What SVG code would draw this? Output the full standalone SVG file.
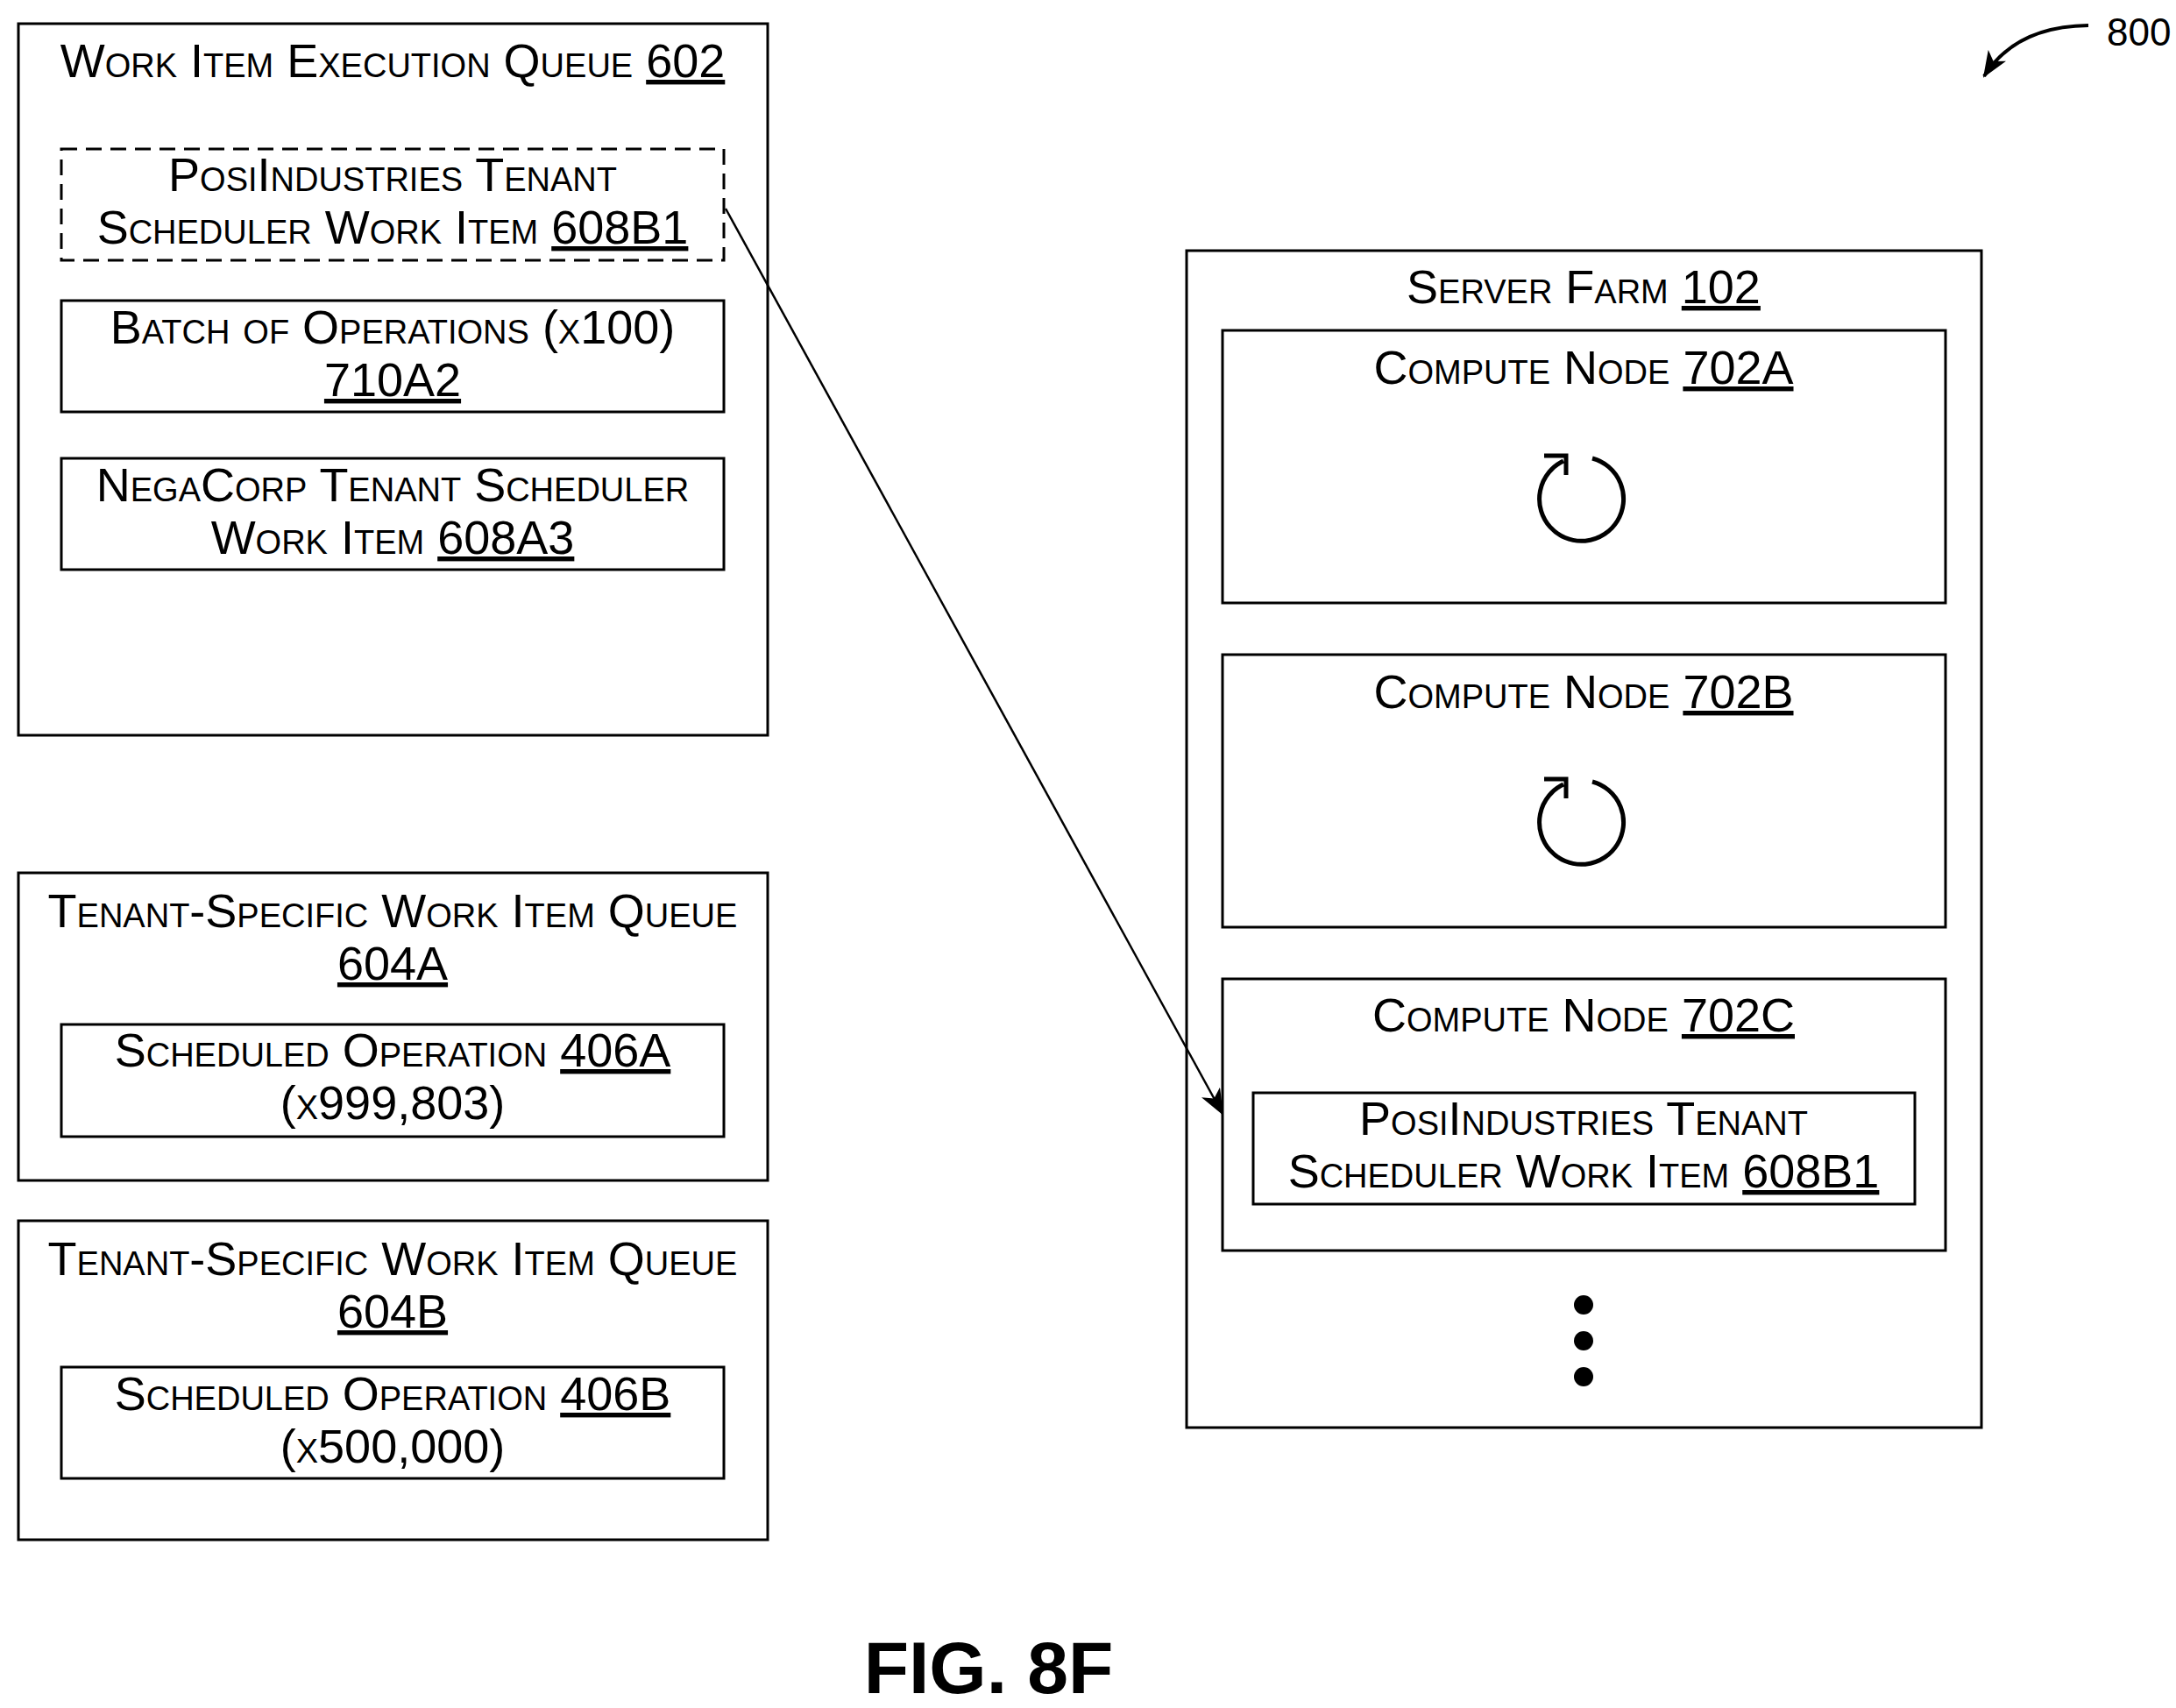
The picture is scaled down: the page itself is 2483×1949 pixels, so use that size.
<svg xmlns="http://www.w3.org/2000/svg" width="2483" height="1949" viewBox="0 0 2483 1949">
<style>
.b{fill:none;stroke:#000;stroke-width:3}
.d{fill:none;stroke:#000;stroke-width:3;stroke-dasharray:18,10}
.ic{fill:none;stroke:#000;stroke-width:5}
text{font-family:"Liberation Sans",Arial,sans-serif;font-size:54px;font-variant:small-caps;text-anchor:middle;fill:#000}
.u{text-decoration:underline}
.fig{font-size:84px;font-weight:bold;font-variant:normal}
.n{font-size:44px;font-variant:normal;text-anchor:start}
</style>
<defs>
<marker id="a2" markerWidth="30" markerHeight="24" refX="28" refY="12" orient="auto" markerUnits="userSpaceOnUse"><path d="M0,0 L30,12 L0,24 L8,12 z" fill="#000"/></marker>
</defs>
<g id="queue602"><rect class="b" x="21" y="27" width="855" height="812"/>
<text x="448" y="88">Work Item Execution Queue <tspan class="u">602</tspan></text></g>
<g id="wi608B1"><rect class="d" x="70" y="170" width="756" height="127"/>
<text x="448" y="218">PosiIndustries Tenant</text><text x="448" y="278">Scheduler Work Item <tspan class="u">608B1</tspan></text></g>
<g id="batch710A2"><rect class="b" x="70" y="343" width="756" height="127"/>
<text x="448" y="392">Batch of Operations (x100)</text><text x="448" y="452" class="u">710A2</text></g>
<g id="wi608A3"><rect class="b" x="70" y="523" width="756" height="127"/>
<text x="448" y="572">NegaCorp Tenant Scheduler</text><text x="448" y="632">Work Item <tspan class="u">608A3</tspan></text></g>
<g id="queue604A"><rect class="b" x="21" y="996" width="855" height="351"/>
<text x="448" y="1058">Tenant-Specific Work Item Queue</text><text x="448" y="1118" class="u">604A</text>
<rect class="b" x="70" y="1169" width="756" height="128"/>
<text x="448" y="1217">Scheduled Operation <tspan class="u">406A</tspan></text><text x="448" y="1277">(x999,803)</text></g>
<g id="queue604B"><rect class="b" x="21" y="1393" width="855" height="364"/>
<text x="448" y="1455">Tenant-Specific Work Item Queue</text><text x="448" y="1515" class="u">604B</text>
<rect class="b" x="70" y="1560" width="756" height="127"/>
<text x="448" y="1609">Scheduled Operation <tspan class="u">406B</tspan></text><text x="448" y="1669">(x500,000)</text></g>
<g id="farm102"><rect class="b" x="1354" y="286" width="907" height="1343"/>
<text x="1807" y="346">Server Farm <tspan class="u">102</tspan></text>
<circle cx="1807" cy="1489" r="11"/><circle cx="1807" cy="1530" r="11"/><circle cx="1807" cy="1571" r="11"/></g>
<g id="node702A"><rect class="b" x="1395" y="377" width="825" height="311"/>
<text x="1807" y="438">Compute Node <tspan class="u">702A</tspan></text>
<path class="ic" d="M1817,523 A48,48 0 1 1 1784,526 M1762,520 L1787,520 L1787,542"/></g>
<g id="node702B"><rect class="b" x="1395" y="747" width="825" height="311"/>
<text x="1807" y="808">Compute Node <tspan class="u">702B</tspan></text>
<path class="ic" d="M1817,892 A48,48 0 1 1 1784,895 M1762,889 L1787,889 L1787,911"/></g>
<g id="node702C"><rect class="b" x="1395" y="1117" width="825" height="310"/>
<text x="1807" y="1177">Compute Node <tspan class="u">702C</tspan></text>
<rect class="b" x="1430" y="1247" width="755" height="127"/>
<text x="1807" y="1295">PosiIndustries Tenant</text><text x="1807" y="1355">Scheduler Work Item <tspan class="u">608B1</tspan></text></g>
<g id="connectors">
<line x1="828" y1="238" x2="1395" y2="1271" stroke="#000" stroke-width="2.5" marker-end="url(#a2)"/>
<path d="M2383,29 Q2300,30 2264,87" fill="none" stroke="#000" stroke-width="4" marker-end="url(#a2)"/>
</g>
<text class="n" x="2404" y="52">800</text>
<text class="fig" x="1128" y="1932">FIG. 8F</text>
</svg>
